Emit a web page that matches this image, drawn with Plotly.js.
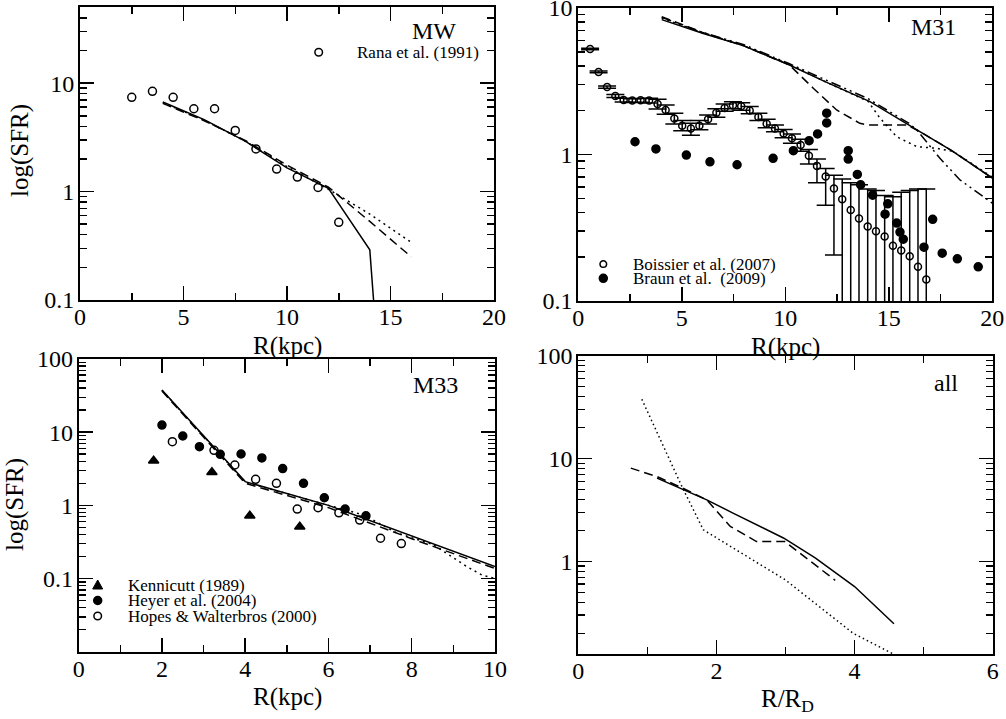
<!DOCTYPE html>
<html><head><meta charset="utf-8">
<script src="https://cdn.plot.ly/plotly-3.0.1.min.js"></script>
<style>html,body{margin:0;padding:0;background:#fff}</style>
</head><body><div id="chart" style="width:1006px;height:719px"></div>
<script>
// ---------- MW ----------
const mwRanaR   = [2.5, 3.5, 4.5, 5.5, 6.5, 7.5, 8.5, 9.5, 10.5, 11.5, 12.5];
const mwRanaSFR = [7.4, 8.4, 7.4, 5.8, 5.8, 3.66, 2.47, 1.61, 1.36, 1.09, 0.52];
const mwSolidR  = [4, 6, 8, 10, 12, 14, 14.3];
const mwSolid   = [6.7, 4.6, 2.9, 1.65, 1.07, 0.29, 0.05];
const mwDashR   = [4, 6, 8, 10, 12, 14, 16];
const mwDash    = [6.5, 4.5, 2.95, 1.75, 1.1, 0.53, 0.25];
const mwDotR    = [4, 6, 8, 10, 12, 14, 16];
const mwDot     = [6.6, 4.55, 2.9, 1.7, 1.05, 0.62, 0.34];

// ---------- M31 ----------
const boisR   = [0.57,0.98,1.39,1.79,2.19,2.61,3.01,3.42,3.83,4.22,4.64,5.02,5.44,5.85,6.27,6.67,7.07,7.47,7.87,8.28,8.70,9.10,9.50,9.92,10.32,10.74,11.14,11.53,11.95,12.35,12.75,13.16,13.56,13.98,14.38,14.80,15.20,15.60,16.01,16.41,16.81];
const boisSFR = [5.24,3.65,2.88,2.50,2.35,2.33,2.34,2.33,2.21,2.01,1.76,1.57,1.50,1.57,1.74,1.92,2.07,2.16,2.13,1.99,1.80,1.62,1.50,1.39,1.29,1.16,0.98,0.835,0.706,0.585,0.495,0.417,0.365,0.322,0.299,0.275,0.238,0.221,0.202,0.171,0.140];
const boisHi  = [5.30,3.70,2.93,2.56,2.42,2.40,2.41,2.42,2.38,2.17,1.91,1.70,1.63,1.70,1.86,2.05,2.21,2.29,2.25,2.12,1.91,1.74,1.59,1.48,1.38,1.27,1.08,0.93,0.80,0.72,0.68,0.64,0.62,0.58,0.567,0.524,0.515,0.552,0.567,0.58,0.58];
const boisLo  = [5.18,3.60,2.83,2.44,2.28,2.26,2.27,2.24,2.04,1.88,1.61,1.45,1.35,1.47,1.61,1.79,1.97,2.05,2.00,1.89,1.70,1.52,1.43,1.30,1.19,1.05,0.86,0.64,0.45,0.206,0.03,0.03,0.03,0.03,0.03,0.03,0.03,0.03,0.03,0.03,0.03];
const braunR   = [2.74,3.75,5.22,6.36,7.67,9.41,10.39,11.15,11.56,12.0,12.0,13.04,13.04,13.48,13.64,14.22,14.82,14.95,15.38,15.54,15.70,16.70,17.12,17.58,18.31,19.32];
const braunSFR = [1.22,1.09,0.99,0.89,0.85,0.94,1.06,1.24,1.38,1.64,1.91,1.06,0.93,0.73,0.62,0.527,0.391,0.46,0.34,0.295,0.264,0.233,0.361,0.212,0.194,0.171];
const m31SolidR = [4.03, 6, 8, 10.2, 12, 14.09, 16.5, 18.0, 20];
const m31Solid  = [8.3, 6.7, 5.5, 4.07, 3.1, 2.29, 1.43, 1.07, 0.69];
const m31DashR  = [4.03, 6, 8, 10.2, 11.35, 12.48, 13.6, 13.93, 15.86, 16.5, 18, 20];
const m31Dash   = [8.7, 6.8, 5.5, 4.07, 2.83, 2.01, 1.63, 1.59, 1.59, 1.43, 1.07, 0.69];
const m31DotR   = [4.03, 6, 8, 10.2, 12, 14.0, 14.57, 15.38, 16.35, 17.3, 18.1, 20];
const m31Dot    = [8.5, 6.75, 5.5, 4.1, 3.1, 2.3, 1.77, 1.32, 1.13, 1.10, 1.05, 0.7];
const m31DdR    = [4.03, 6, 8, 10.2, 12, 14, 16.0, 16.35, 17.47, 18.44, 20];
const m31Dd     = [8.6, 6.8, 5.6, 4.15, 3.2, 2.4, 1.62, 1.47, 0.94, 0.67, 0.465];

// ---------- M33 ----------
const kenR   = [1.8, 3.2, 4.11, 5.31];
const kenSFR = [4.08, 2.83, 0.72, 0.51];
const heyR   = [2.0, 2.5, 2.9, 3.4, 3.9, 4.4, 4.9, 5.4, 5.9, 6.4, 6.9];
const heySFR = [12.5, 8.87, 6.34, 4.99, 5.03, 4.44, 3.18, 2.0, 1.27, 0.89, 0.72];
const hopR   = [2.25, 3.25, 3.75, 4.25, 4.75, 5.25, 5.75, 6.25, 6.75, 7.25, 7.75];
const hopSFR = [7.41, 5.65, 3.56, 2.27, 2.0, 0.89, 0.93, 0.79, 0.63, 0.355, 0.30];
const m33SolidR = [2, 4, 6, 8, 10];
const m33Solid  = [37.7, 2.11, 1.0, 0.38, 0.146];
const m33DashR  = [2, 4, 6, 8, 10];
const m33Dash   = [36.5, 2.0, 0.93, 0.35, 0.137];
const m33DotR   = [2, 4, 6, 6.84, 7.64, 8.52, 9.32, 9.68, 10];
const m33Dot    = [37.5, 2.08, 1.0, 0.74, 0.42, 0.29, 0.146, 0.112, 0.1];

// ---------- all ----------
const allSolidX = [1.14, 1.5, 1.86, 2.24, 2.97, 3.43, 4.0, 4.57];
const allSolid  = [6.46, 5.1, 3.97, 2.95, 1.69, 1.08, 0.57, 0.248];
const allDashX  = [0.76, 1.14, 1.5, 1.86, 2.2, 2.58, 2.99, 3.72];
const allDash   = [8.07, 6.68, 5.2, 3.97, 2.19, 1.56, 1.56, 0.655];
const allDotX   = [0.92, 1.5, 1.81, 3.0, 3.98, 4.57];
const allDot    = [37.7, 5.35, 2.03, 0.66, 0.2, 0.125];

// ---------- tick labels / legend texts ----------
const logTickVals = [0.1, 1, 10, 100];
const logTickText = ['0.1', '1', '10', '100'];
const logMinorVals = [0.02,0.03,0.04,0.05,0.06,0.07,0.08,0.09,0.2,0.3,0.4,0.5,0.6,0.7,0.8,0.9,2,3,4,5,6,7,8,9,20,30,40,50,60,70,80,90];
const mwLegend  = ['Rana et al. (1991)'];
const m31Legend = ['Boissier et al. (2007)', 'Braun et al.  (2009)'];
const m33Legend = ['Kennicutt (1989)', 'Heyer et al. (2004)', 'Hopes & Walterbros (2000)'];

const FONT = 'Liberation Serif';
const W = 1006, H = 719;

function line(x, y, dash, xa, ya) {
  return {x: x, y: y, type: 'scatter', mode: 'lines', xaxis: xa, yaxis: ya,
    line: {color: 'black', width: 1.5, dash: dash}, showlegend: false, hoverinfo: 'skip'};
}
function pts(x, y, symbol, size, xa, ya, name) {
  return {x: x, y: y, type: 'scatter', mode: 'markers', xaxis: xa, yaxis: ya, name: name,
    showlegend: false,
    marker: {symbol: symbol, size: size, color: 'black', line: {color: 'black', width: 1.5}}};
}

const DASH = '9px,5px';
const DOT = '2px,4px';
const DDOT = '10px,4px,2px,4px,2px,4px';

const traces = [
  // MW
  line(mwSolidR, mwSolid, 'solid', 'x', 'y'),
  line(mwDashR, mwDash, DASH, 'x', 'y'),
  line(mwDotR, mwDot, DOT, 'x', 'y'),
  pts(mwRanaR, mwRanaSFR, 'circle-open', 8, 'x', 'y', mwLegend[0]),
  // M31
  line(m31SolidR, m31Solid, 'solid', 'x2', 'y2'),
  line(m31DashR, m31Dash, DASH, 'x2', 'y2'),
  line(m31DotR, m31Dot, DOT, 'x2', 'y2'),
  line(m31DdR, m31Dd, DDOT, 'x2', 'y2'),
  Object.assign(pts(boisR, boisSFR, 'circle-open', 7, 'x2', 'y2', m31Legend[0]), {
    error_y: {type: 'data', symmetric: false,
      array: boisHi.map((v, i) => v - boisSFR[i]),
      arrayminus: boisLo.map((v, i) => boisSFR[i] - v),
      color: 'black', thickness: 1.5, width: 9}
  }),
  pts(braunR, braunSFR, 'circle', 8, 'x2', 'y2', m31Legend[1]),
  // M33
  line(m33SolidR, m33Solid, 'solid', 'x3', 'y3'),
  line(m33DashR, m33Dash, DASH, 'x3', 'y3'),
  line(m33DotR, m33Dot, DOT, 'x3', 'y3'),
  pts(kenR, kenSFR, 'triangle-up', 9, 'x3', 'y3', m33Legend[0]),
  pts(heyR, heySFR, 'circle', 8, 'x3', 'y3', m33Legend[1]),
  pts(hopR, hopSFR, 'circle-open', 8, 'x3', 'y3', m33Legend[2]),
  // all
  line(allSolidX, allSolid, 'solid', 'x4', 'y4'),
  line(allDashX, allDash, DASH, 'x4', 'y4'),
  line(allDotX, allDot, '1.5px,3px', 'x4', 'y4')
];

const tickFont = {family: FONT, size: 24, color: 'black'};
function xax(px0, px1, range, dtick, mdtick, anchor) {
  return {domain: [px0 / W, px1 / W], range: range, anchor: anchor, dtick: dtick, tick0: 0,
    showline: true, linewidth: 2, linecolor: 'black', mirror: 'ticks',
    ticks: 'inside', ticklen: 14, tickwidth: 1.5, tickcolor: 'black',
    showgrid: false, zeroline: false, ticklabelstandoff: -6, ticklabeloverflow: 'allow',
    tickfont: tickFont,
    minor: {ticks: 'inside', ticklen: 7, tickwidth: 1.5, tickcolor: 'black', dtick: mdtick, tick0: 0, showgrid: false}};
}
function yax(top, bottom, range, anchor) {
  return {domain: [1 - bottom / H, 1 - top / H], type: 'log', range: range, anchor: anchor,
    tickvals: logTickVals, ticktext: logTickText,
    showline: true, linewidth: 2, linecolor: 'black', mirror: 'ticks',
    ticks: 'inside', ticklen: 14, tickwidth: 1.5, tickcolor: 'black',
    showgrid: false, zeroline: false, ticklabelstandoff: -1, ticklabeloverflow: 'allow',
    tickfont: tickFont,
    minor: {ticks: 'inside', ticklen: 7, tickwidth: 1.5, tickcolor: 'black', tickvals: logMinorVals, showgrid: false}};
}

function ann(text, px, py, size, angle, xanchor) {
  return {text: text, xref: 'paper', yref: 'paper', x: px / W, y: 1 - py / H,
    xanchor: xanchor || 'center', yanchor: 'middle', showarrow: false, textangle: angle || 0,
    font: {family: FONT, size: size, color: 'black'}};
}
// legend keys drawn as layout shapes (paper coordinates)
function keyCircle(px, py, r, filled) {
  return {type: 'circle', xref: 'paper', yref: 'paper',
    x0: (px - r) / W, x1: (px + r) / W, y0: 1 - (py + r) / H, y1: 1 - (py - r) / H,
    line: {color: 'black', width: 1.5}, fillcolor: filled ? 'black' : 'rgba(0,0,0,0)'};
}
function keyTriangle(px, py, r) {
  const p = (x, y) => (x / W) + ',' + (1 - y / H);
  return {type: 'path', xref: 'paper', yref: 'paper',
    path: 'M' + p(px - r, py + r * 0.8) + ' L' + p(px + r, py + r * 0.8) + ' L' + p(px, py - r) + ' Z',
    line: {color: 'black', width: 1}, fillcolor: 'black'};
}

const LEG = 17;
const layout = {
  width: W, height: H, margin: {l: 0, r: 0, t: 0, b: 0},
  paper_bgcolor: 'white', plot_bgcolor: 'white',
  font: {family: FONT, size: 24, color: 'black'},
  showlegend: false,
  xaxis:  xax(80, 494, [0, 20], 5, 2.5, 'y'),
  yaxis:  yax(7.3, 300, [-1, Math.log10(50)], 'x'),
  xaxis2: xax(578.3, 992.3, [0, 20], 5, 2.5, 'y2'),
  yaxis2: yax(7.8, 301, [-1, 1], 'x2'),
  xaxis3: xax(78.7, 495, [0, 10], 2, 1, 'y3'),
  yaxis3: yax(359, 651.7, [-2, 2], 'x3'),
  xaxis4: xax(578.3, 992.7, [0, 6], 2, 1, 'y4'),
  yaxis4: yax(355.7, 654, [-0.9, 2], 'x4'),
  shapes: [
    keyCircle(318.7, 52.3, 3.8, false),
    keyCircle(603.3, 264, 3.3, false),
    keyCircle(603.3, 278.3, 4, true),
    keyTriangle(97.7, 585, 5),
    keyCircle(97.7, 600.5, 4, true),
    keyCircle(97.7, 616, 3.8, false)
  ],
  annotations: [
    ann('MW', 434, 31, 24), ann('M31', 933, 27, 24), ann('M33', 435, 385, 24), ann('all', 946, 383, 24),
    ann('log(SFR)', 20, 151, 25, -90), ann('log(SFR)', 15, 505, 25, -90),
    ann('R(kpc)', 287, 346, 25), ann('R(kpc)', 785, 347, 25),
    ann('R(kpc)', 287, 697, 25), ann('R/R<sub>D</sub>', 787, 700, 25),
    ann(mwLegend[0], 355, 52.3, LEG, 0, 'left'),
    ann(m31Legend[0], 631, 264, LEG, 0, 'left'),
    ann(m31Legend[1], 631, 278.3, LEG, 0, 'left'),
    ann(m33Legend[0], 126, 585, LEG, 0, 'left'),
    ann(m33Legend[1], 126, 600.5, LEG, 0, 'left'),
    ann(m33Legend[2], 126, 616, LEG, 0, 'left')
  ]
};

Plotly.newPlot('chart', traces, layout, {staticPlot: true, displayModeBar: false});
</script></body></html>
